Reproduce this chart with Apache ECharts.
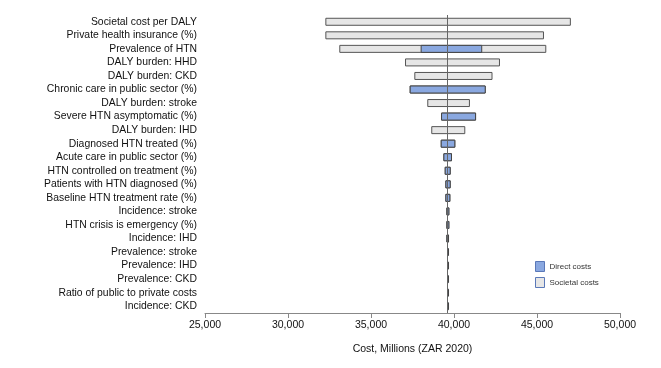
<!DOCTYPE html>
<html><head><meta charset="utf-8">
<script src="https://cdn.jsdelivr.net/npm/echarts@6/dist/echarts.min.js"></script>
<style>html,body{margin:0;padding:0;background:#fff}#c{width:661px;height:368px}</style>
</head><body><div id="c"></div>
<script>
const categories = ["Societal cost per DALY","Private health insurance (%)","Prevalence of HTN","DALY burden: HHD","DALY burden: CKD","Chronic care in public sector (%)","DALY burden: stroke","Severe HTN asymptomatic (%)","DALY burden: IHD","Diagnosed HTN treated (%)","Acute care in public sector (%)","HTN controlled on treatment (%)","Patients with HTN diagnosed (%)","Baseline HTN treatment rate (%)","Incidence: stroke","HTN crisis is emergency (%)","Incidence: IHD","Prevalence: stroke","Prevalence: IHD","Prevalence: CKD","Ratio of public to private costs","Incidence: CKD"];
const baseCost = 39600;
const societalLow  = [32250,32250,33090,37050,37610,37330,38390,39220,38630,39200,39360,39440,39480,39480,39540,39540,39540,39580,39580,39580,39580,39580];
const societalHigh = [47040,45420,45560,42770,42320,41910,40960,41330,40680,40080,39880,39800,39800,39780,39720,39720,39700,39640,39640,39640,39640,39640];
const directLow  = [null,null,37990,null,null,37330,null,39220,null,39200,39360,39440,39480,39480,39540,39540,39540,39580,39580,39580,39580,39580];
const directHigh = [null,null,41700,null,null,41910,null,41330,null,40080,39880,39800,39800,39780,39720,39720,39700,39640,39640,39640,39640,39640];
const xTicks = {min:25000, max:50000, interval:5000};

const diff = (lo, hi) => lo.map((v,i) => v==null ? null : hi[i]-v);
const BLUE = '#8aa8e0', GRAY = '#e6e6e6', EDGE = '#555';
const font = 'Liberation Sans, Arial, sans-serif';
const chart = echarts.init(document.getElementById('c'), null, {renderer:'canvas'});
chart.setOption({
  animation:false,
  grid:{left:205, right:41, top:15, bottom:55},
  legend:{
    orient:'vertical', left:530, top:256, itemWidth:9, itemHeight:10, itemGap:5, icon:'rect',
    textStyle:{fontSize:8, color:'#333', fontFamily:font},
    data:[
      {name:'Direct costs', icon:'rect', itemStyle:{color:BLUE, borderColor:'#5a78b8', borderWidth:1}},
      {name:'Societal costs', icon:'rect', itemStyle:{color:GRAY, borderColor:'#5a78b8', borderWidth:1}}
    ]
  },
  xAxis:{
    type:'value', min:xTicks.min, max:xTicks.max, interval:xTicks.interval,
    name:'Cost, Millions (ZAR 2020)', nameLocation:'middle', nameGap:31,
    nameTextStyle:{fontSize:10.5, color:'#111', fontFamily:font},
    axisLine:{show:true, lineStyle:{color:'#888'}},
    axisTick:{show:true, length:5, lineStyle:{color:'#888'}},
    axisLabel:{fontSize:10.5, color:'#111', margin:7, fontFamily:font,
      formatter:v=>v.toLocaleString('en-US')},
    splitLine:{show:false}
  },
  yAxis:{
    type:'category', data:categories, inverse:true,
    axisLine:{show:false}, axisTick:{show:false},
    axisLabel:{interval:0, fontSize:10.4, color:'#111', margin:8, fontFamily:font}
  },
  series:[
    {name:'sbase', type:'bar', stack:'s', data:societalLow, barWidth:8, silent:true,
     itemStyle:{color:'transparent'}},
    {name:'Societal costs', type:'bar', stack:'s', data:diff(societalLow,societalHigh), barWidth:8,
     itemStyle:{color:GRAY, borderColor:EDGE, borderWidth:1}},
    {name:'dbase', type:'bar', stack:'d', data:directLow, barWidth:8, barGap:'-100%', silent:true,
     itemStyle:{color:'transparent'}},
    {name:'Direct costs', type:'bar', stack:'d', data:diff(directLow,directHigh), barWidth:8, barGap:'-100%',
     barMinHeight:2,
     itemStyle:{color:BLUE, borderColor:'#444', borderWidth:1},
     markLine:{silent:true, symbol:'none', label:{show:false}, z:10,
       lineStyle:{color:'#666', width:1, type:'solid'}, data:[{xAxis:baseCost}]}}
  ]
});
</script></body></html>
